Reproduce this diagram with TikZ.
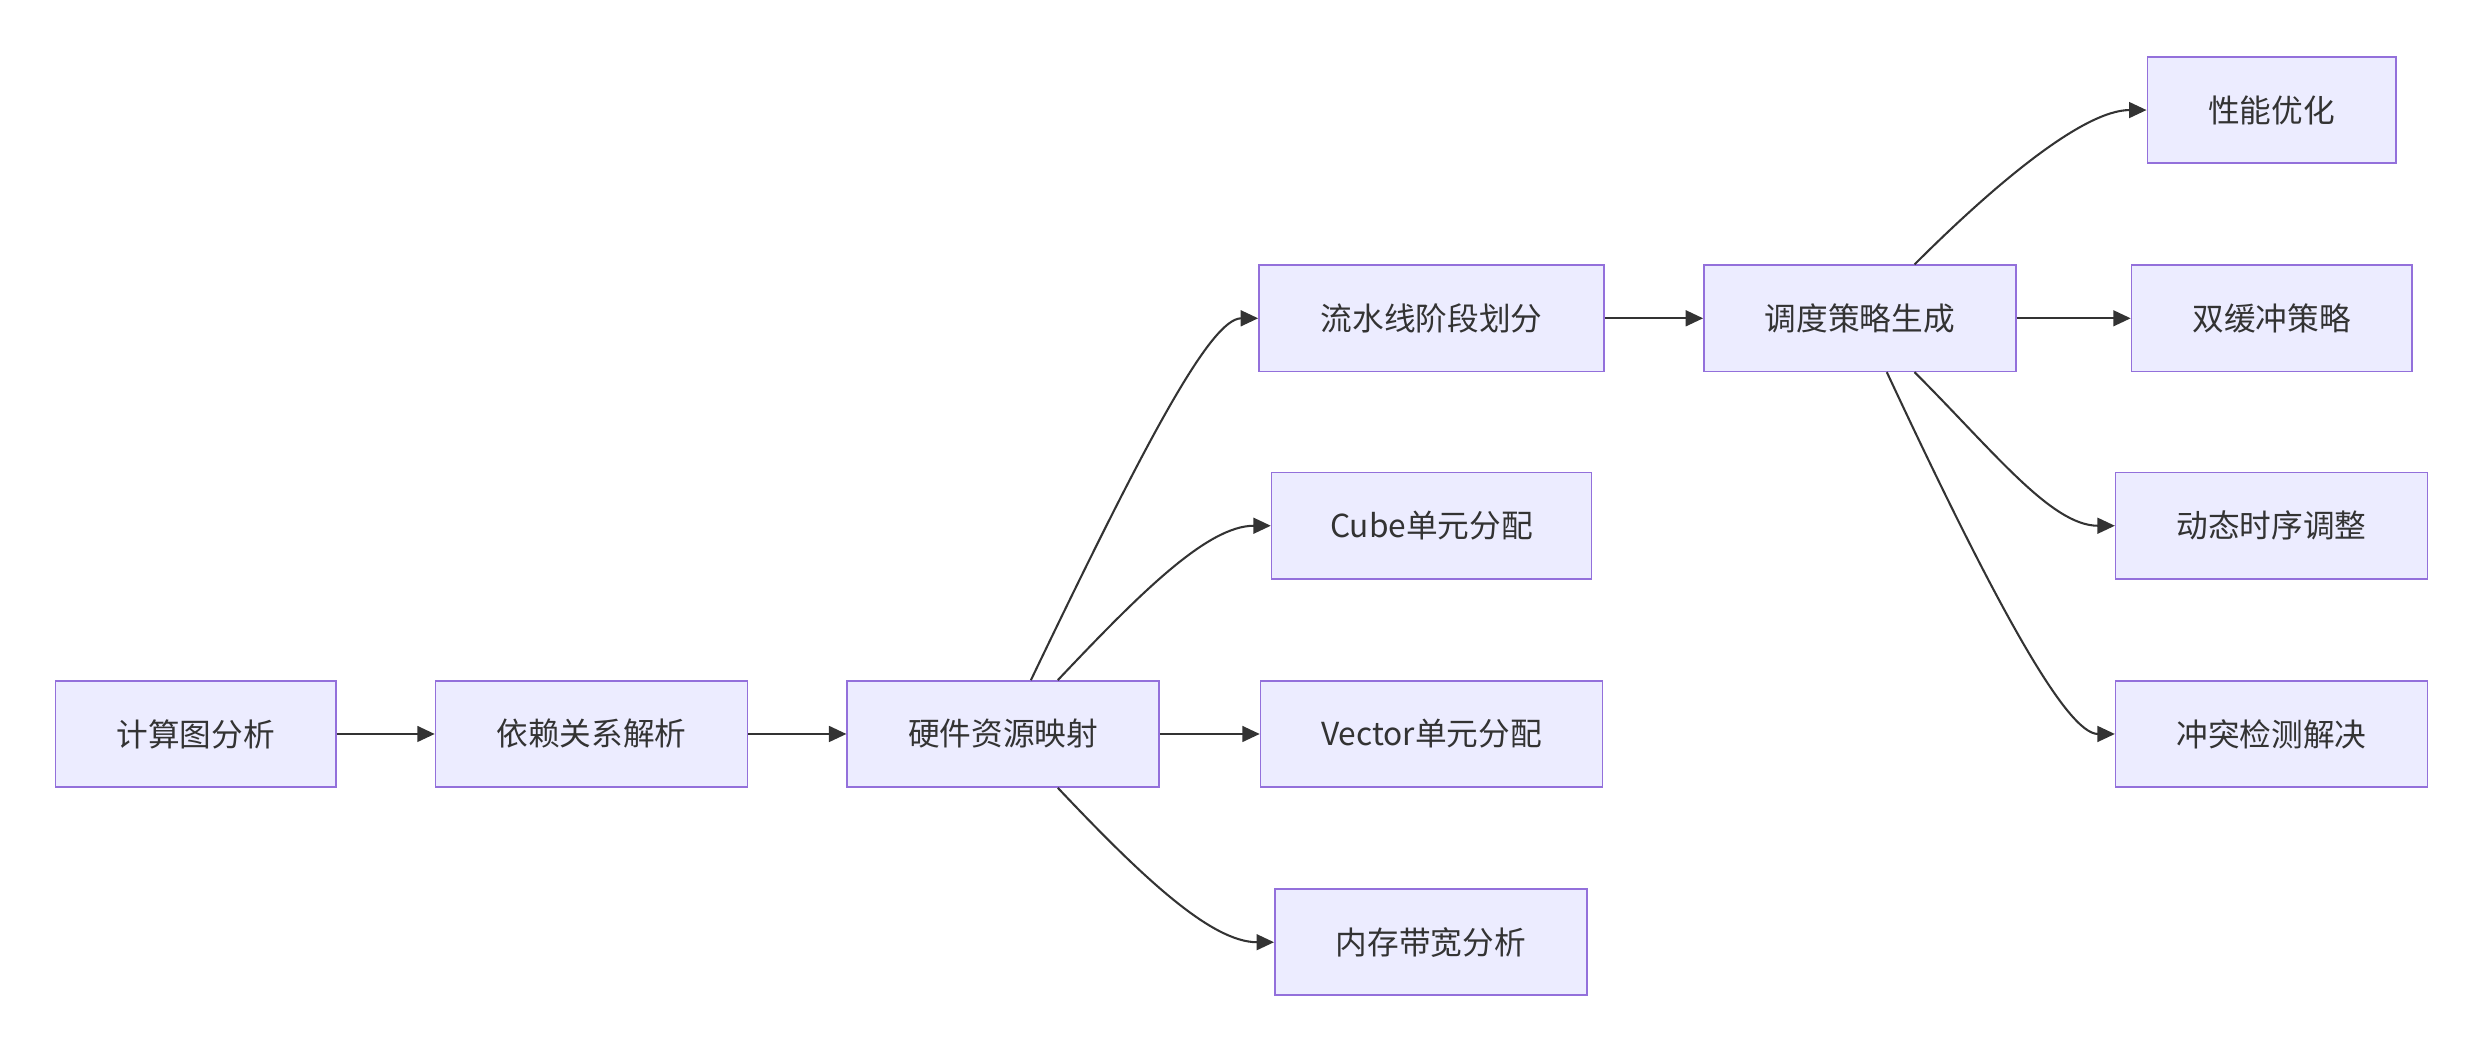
\documentclass[tikz,border=0pt]{standalone}
\usepackage{fontspec}
\setmainfont{Noto Sans CJK SC}
\usetikzlibrary{arrows.meta}
\definecolor{nodefill}{HTML}{ECECFF}
\definecolor{nodeline}{HTML}{9370DB}
\definecolor{ink}{HTML}{333333}
\begin{document}
\begin{tikzpicture}[x=1pt,y=1pt,
  box/.style={draw=nodeline,fill=nodefill,line width=1pt,minimum height=67pt,inner sep=0pt,text=ink,font=\fontsize{20}{24}\selectfont},
  link/.style={draw=ink,line width=1.3pt,-{Triangle[length=11pt,width=10pt]}}]
\useasboundingbox (0,0) rectangle (1568,-664);
\node[box,minimum width=177pt] (A) at (123.5,-463.5) {计算图分析};
\node[box,minimum width=197pt] (B) at (373.5,-463.5) {依赖关系解析};
\node[box,minimum width=197pt] (C) at (633.5,-463.5) {硬件资源映射};
\node[box,minimum width=218pt] (D) at (904,-201) {流水线阶段划分};
\node[box,minimum width=202pt] (E) at (904,-332) {Cube单元分配};
\node[box,minimum width=216pt] (F) at (904,-463.5) {Vector单元分配};
\node[box,minimum width=197pt] (G) at (903.5,-595) {内存带宽分析};
\node[box,minimum width=197pt] (H) at (1174.5,-201) {调度策略生成};
\node[box,minimum width=157pt] (I) at (1434.5,-69.5) {性能优化};
\node[box,minimum width=177pt] (J) at (1434.5,-201) {双缓冲策略};
\node[box,minimum width=197pt] (K) at (1434.5,-332) {动态时序调整};
\node[box,minimum width=197pt] (L) at (1434.5,-463.5) {冲突检测解决};
\draw[link] (A) -- (B);
\draw[link] (B) -- (C);
\draw[link] ([xshift=17.5pt]C.north) .. controls +(72,150) and +(-30,0) .. (D.west);
\draw[link] ([xshift=34.5pt]C.north) .. controls +(52,55) and +(-40,0) .. (E.west);
\draw[link] (C) -- (F);
\draw[link] ([xshift=34.5pt]C.south) .. controls +(52,-55) and +(-40,0) .. (G.west);
\draw[link] (D) -- (H);
\draw[link] ([xshift=34.5pt]H.north) .. controls +(50,50) and +(-40,0) .. (I.west);
\draw[link] (H) -- (J);
\draw[link] ([xshift=34.5pt]H.south) .. controls +(50,-50) and +(-40,0) .. (K.west);
\draw[link] ([xshift=17pt]H.south) .. controls +(70,-150) and +(-30,0) .. (L.west);
\end{tikzpicture}
\end{document}
